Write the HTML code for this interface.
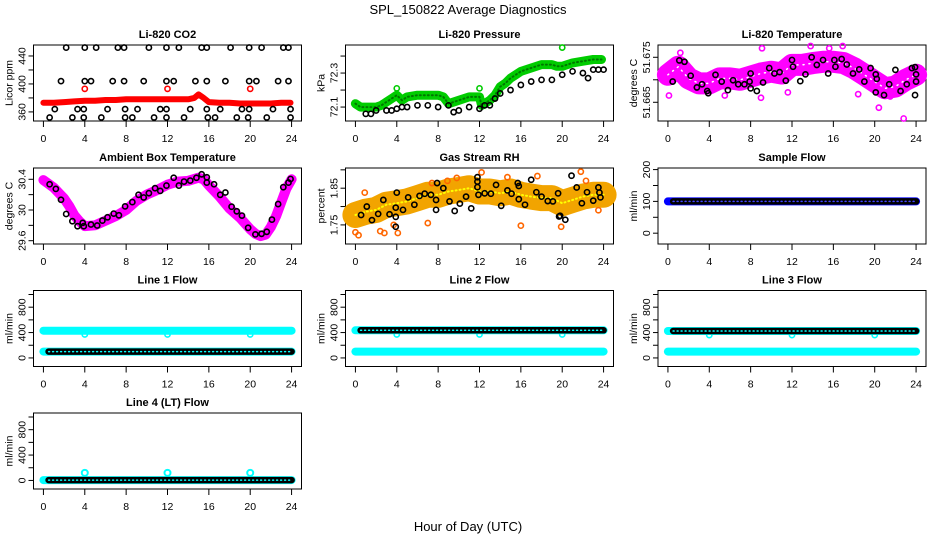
<!DOCTYPE html>
<html><head><meta charset="utf-8"><title>SPL_150822 Average Diagnostics</title>
<style>
html,body{margin:0;padding:0;background:#fff;}
svg{display:block;font-family:"Liberation Sans",sans-serif;}
</style></head>
<body>
<svg id="chart" width="936" height="540" viewBox="0 0 936 540" xmlns="http://www.w3.org/2000/svg">
<rect x="0" y="0" width="936" height="540" fill="#fff"/>
<text x="468" y="14" text-anchor="middle" font-size="13">SPL_150822  Average Diagnostics</text>
<text x="468" y="531" text-anchor="middle" font-size="13">Hour of Day (UTC)</text>
</svg>
<script>
// ---------- data ----------
var xTicks = [0,4,8,12,16,20,24];
var hours = [0,1,2,3,4,5,6,7,8,9,10,11,12,13,14,15,16,17,18,19,20,21,22,23,24];
var flowBlackHours = [0.5,1,2,3,4,5,6,7,8,9,10,11,12,13,14,15,16,17,18,19,20,21,22,23,24];

// CO2
var co2RedHours = [0,1,2,3,4,5,6,7,8,9,10,11,12,13,14,14.6,15,15.4,16,17,18,19,20,21,22,23,23.9];
var co2Red = [373,373,374,375,376,376,377,377,378,378,378,378,378,378,378,380,385,381,374,373,373,372,372,372,372,373,373];
var co2RedOutHours = [4,12,20];
var co2RedOut = [393,393,393];
var co2BlackHours = [2.2,4.0,5.1,7.2,7.8,10.2,11.9,13.1,15.3,15.8,18.1,19.9,21.1,23.2,23.7,
 1.7,4.0,4.6,6.7,7.8,9.7,11.9,12.6,14.7,15.8,17.6,19.9,20.6,22.7,23.7,
 1.1,3.3,3.9,6.2,7.9,9.1,11.3,11.9,14.2,15.8,17.1,19.2,19.9,22.2,23.9,
 0.6,2.8,3.9,5.6,7.9,8.6,10.7,11.9,13.6,15.9,16.6,18.7,19.8,21.6,23.9];
var co2Black = [452,452,452,452,452,452,452,452,452,452,452,452,452,452,452,
 404,404,404,404,404,404,404,404,404,404,404,404,404,404,404,
 364,364,364,364,364,364,364,364,364,364,364,364,364,364,364,
 352,352,352,352,352,352,352,352,352,352,352,352,352,352,352];

// Pressure
var presGreenHours = [0,0.5,1,1.5,2,2.5,3,3.5,4,4.5,5,6,7,8,8.5,9,10,11,12,12.2,13,13.5,14,14.5,15,15.5,16,17,18,19,19.5,20,21,22,23,23.8];
var presGreen = [72.12,72.10,72.10,72.10,72.10,72.11,72.13,72.15,72.17,72.14,72.16,72.17,72.17,72.17,72.16,72.12,72.14,72.16,72.16,72.11,72.14,72.17,72.22,72.24,72.27,72.29,72.31,72.33,72.35,72.35,72.34,72.34,72.36,72.37,72.38,72.38];
var presGreenOutHours = [4,12,20];
var presGreenOut = [72.21,72.21,72.45];
var presBlackHours = [1,1.5,2,3,3.5,4,4.5,5,6,7,8,9,9.5,10,11,12,12.5,13,13.5,14,15,16,17,18,19,20,21,22,22.5,23,23.5,24];
var presBlack = [72.06,72.06,72.08,72.08,72.08,72.09,72.10,72.10,72.11,72.11,72.10,72.11,72.07,72.08,72.10,72.09,72.11,72.11,72.15,72.18,72.20,72.23,72.25,72.26,72.26,72.29,72.31,72.30,72.27,72.32,72.32,72.32];

// Li-820 temperature
var tempMag = [51.6711,51.6729,51.6703,51.6692,51.6692,51.6703,51.6703,51.6700,51.6707,51.6714,51.6718,51.6714,51.6733,51.6733,51.6737,51.6740,51.6740,51.6737,51.6726,51.6711,51.6696,51.6681,51.6685,51.6700,51.6711];
var tempMagOutHours = [0.1,1.2,9.1,9.0,13.8,15.6,16.9,20.4,22.8,5.5,11.6,18.4,21.5];
var tempMagOut = [51.6665,51.6760,51.6770,51.6660,51.6775,51.6770,51.6775,51.6638,51.6614,51.6665,51.6672,51.6668,51.6663];
var tempBlackHours = [0.46,1.1,1.6,2.2,2.8,3.3,3.8,3.9,4.6,5.2,5.8,6.3,6.8,7.4,7.9,8.0,8.0,8.6,9.2,9.8,10.3,10.8,11.4,12.0,12.1,12.8,13.3,13.9,14.4,15.0,15.5,16.1,16.2,16.8,17.3,17.9,18.5,19.0,19.6,20.1,20.2,20.1,20.9,21.4,22.0,22.5,23.1,23.6,23.9,24.0,24.0,23.9];
var tempBlack = [51.6696,51.6743,51.6740,51.6709,51.6683,51.6690,51.6675,51.6670,51.6711,51.6696,51.6677,51.6699,51.6690,51.6690,51.6696,51.6714,51.6681,51.6675,51.6694,51.6726,51.6714,51.6717,51.6698,51.6744,51.6729,51.6697,51.6712,51.6750,51.6733,51.6744,51.6714,51.6744,51.6729,51.6746,51.6734,51.6714,51.6723,51.6696,51.6726,51.6712,51.6702,51.6672,51.6666,51.6690,51.6722,51.6675,51.6690,51.6726,51.6728,51.6712,51.6696,51.6666];

// Ambient box temperature
var ambHours = [0,0.5,1,1.5,2,2.5,3,3.5,4,5,6,7,8,9,10,11,12,13,14,15,15.5,16,17,18,19,20,20.5,21,21.5,22,22.5,23,23.5,24];
var ambMag = [30.39,30.34,30.29,30.22,30.15,30.05,29.93,29.85,29.79,29.80,29.86,29.92,30.00,30.12,30.20,30.26,30.33,30.37,30.38,30.42,30.40,30.32,30.18,30.02,29.90,29.75,29.69,29.66,29.68,29.78,29.92,30.10,30.28,30.40];
var ambBlackHours = [0.6,1.2,1.7,2.2,2.8,3.3,3.8,3.9,4.6,5.2,5.7,6.2,6.8,7.3,7.9,8.6,9.2,9.7,10.2,10.8,11.3,11.9,12.6,13.1,13.6,14.2,14.8,15.3,15.8,15.8,16.5,17.1,17.6,18.2,18.7,19.2,19.8,20.5,21.1,21.6,22.1,22.7,23.2,23.7,23.9];
var ambBlack = [30.335,30.275,30.133,29.948,29.854,29.789,29.832,29.789,29.811,29.798,29.862,29.905,29.953,29.931,30.047,30.103,30.198,30.163,30.219,30.284,30.249,30.318,30.420,30.318,30.370,30.383,30.420,30.465,30.426,30.357,30.335,30.198,30.228,30.043,29.983,29.927,29.768,29.682,29.690,29.716,29.875,30.077,30.297,30.357,30.404];

// Gas stream RH
var rhMean = [1.777,1.786,1.791,1.805,1.809,1.814,1.823,1.832,1.832,1.841,1.845,1.850,1.841,1.841,1.836,1.841,1.832,1.827,1.823,1.823,1.809,1.818,1.827,1.832,1.832];
var rhOutHours = [0.0,0.3,2.4,2.8,3.7,4.1,7.0,8.9,9.8,12.2,14.7,16.0,17.6,19.9,21.8,22.3,23.5,0.9,7.4];
var rhOut = [1.730,1.722,1.733,1.728,1.750,1.728,1.755,1.870,1.878,1.893,1.880,1.748,1.883,1.745,1.895,1.870,1.790,1.838,1.864];
var rhBlackHours = [0.55,1.1,1.6,2.2,2.7,3.3,3.9,3.9,3.9,4.0,4.6,5.1,5.7,6.2,6.7,7.3,7.8,7.8,7.9,8.5,9.1,9.6,10.1,10.7,11.2,11.8,11.8,11.8,11.9,12.5,13.1,13.6,14.1,14.7,15.1,15.7,15.8,15.8,16.4,17.0,17.5,18.0,18.6,19.1,19.6,19.7,19.8,20.3,20.9,21.4,21.9,22.4,23.0,23.5,23.6,23.7];
var rhBlack = [1.777,1.800,1.763,1.780,1.818,1.779,1.797,1.772,1.745,1.838,1.791,1.825,1.805,1.829,1.835,1.832,1.818,1.791,1.864,1.850,1.814,1.788,1.808,1.827,1.795,1.880,1.868,1.853,1.832,1.836,1.835,1.859,1.802,1.844,1.835,1.864,1.856,1.820,1.805,1.873,1.839,1.827,1.815,1.814,1.836,1.773,1.775,1.764,1.884,1.852,1.809,1.839,1.816,1.852,1.838,1.825];

// Flows (hourly)
var sampleBlue = [100,100,100,100,100,100,100,100,100,100,100,100,100,100,100,100,100,100,100,100,100,100,100,100,100];
var line1Cyan  = [430,430,430,430,430,430,430,430,430,430,430,430,430,430,430,430,430,430,430,430,430,430,430,430,430];
var line1Black = [100,100,100,100,100,100,100,100,100,100,100,100,100,100,100,100,100,100,100,100,100,100,100,100,100];
var line2Cyan  = [100,100,100,100,100,100,100,100,100,100,100,100,100,100,100,100,100,100,100,100,100,100,100,100,100];
var line2Black = [435,435,435,435,435,435,435,435,435,435,435,435,435,435,435,435,435,435,435,435,435,435,435,435,435];
var line3Cyan  = [100,100,100,100,100,100,100,100,100,100,100,100,100,100,100,100,100,100,100,100,100,100,100,100,100];
var line3Black = [425,425,425,425,425,425,425,425,425,425,425,425,425,425,425,425,425,425,425,425,425,425,425,425,425];
var line4Black = [5,5,5,5,5,5,5,5,5,5,5,5,5,5,5,5,5,5,5,5,5,5,5,5,5];
var flowOutHours = [4,12,20];
var line1Out = [370,370,370];
var line2Out = [370,370,370];
var line3Out = [360,360,360];
var line4Out = [120,120,120];

// ---------- drawing ----------
var NS = "http://www.w3.org/2000/svg";
var svg = document.getElementById('chart');
function mk(tag, attrs, parent) {
  var e = document.createElementNS(NS, tag);
  for (var k in attrs) e.setAttribute(k, attrs[k]);
  (parent || svg).appendChild(e);
  return e;
}
var colLeft = [33.5, 345.5, 658];
var rowTop = [45, 168, 290.5, 413];
var W = 268, H = 76;

function makePanel(col, row, title, ylab, ymin, ymax, ticks, labels, name) {
  var L = colLeft[col], T = rowTop[row];
  var g = mk('g', {});
  
  
  var p = {
    g: g, L: L, T: T,
    x: function (h) { return L + (h + 0.96) / 25.92 * W; },
    y: function (v) { return T + H - (v - ymin) / (ymax - ymin) * H; }
  };
  var t = mk('text', {x: L + W / 2, y: T - 7, 'text-anchor': 'middle', 'font-size': 11, 'font-weight': 'bold'}, g);
  t.textContent = title;
  
  
  var box = mk('rect', {x: L, y: T, width: W, height: H, fill: 'none', stroke: '#000', 'stroke-width': 1}, g);
  
  
  var xa = mk('g', {}, g);
  
  
  xTicks.forEach(function (h) {
    var xx = p.x(h);
    mk('line', {x1: xx, x2: xx, y1: T + H, y2: T + H + 6, stroke: '#000'}, xa);
    var lt = mk('text', {x: xx, y: T + H + 21, 'text-anchor': 'middle', 'font-size': 10.5}, xa);
    lt.textContent = h;
  });
  var ya = mk('g', {}, g);
  
  
  ticks.forEach(function (v) {
    var yy = p.y(v);
    mk('line', {x1: L - 5, x2: L, y1: yy, y2: yy, stroke: '#000'}, ya);
  });
  labels.forEach(function (v) {
    var yy = p.y(v);
    var lt = mk('text', {x: 0, y: 0, 'text-anchor': 'middle', 'font-size': 10.5, transform: 'translate(' + (L - 8) + ',' + yy + ') rotate(-90)'}, ya);
    lt.textContent = String(v);
  });
  var yt = mk('text', {x: 0, y: 0, 'text-anchor': 'middle', 'font-size': 10.5, transform: 'translate(' + (L - 21) + ',' + (T + H / 2) + ') rotate(-90)'}, g);
  yt.textContent = ylab;
  
  
  return p;
}
function series(p, name) {
  var s = mk('g', {}, p.g);
  
  
  return s;
}
function points(p, hs, vs, color, name, r, sw) {
  var s = series(p, name);
  for (var i = 0; i < vs.length; i++) {
    mk('circle', {cx: p.x(hs[i]), cy: p.y(vs[i]), r: r || 2.6, fill: 'none', stroke: color, 'stroke-width': sw || 1.6}, s);
  }
  return s;
}
function band(p, hs, vs, color, width, name, dash) {
  var s = series(p, name);
  var d = '';
  for (var i = 0; i < vs.length; i++) d += (i ? 'L' : 'M') + p.x(hs[i]).toFixed(1) + ',' + p.y(vs[i]).toFixed(1);
  var a = {d: d, fill: 'none', stroke: color, 'stroke-width': width, 'stroke-linecap': 'round', 'stroke-linejoin': 'round'};
  if (dash) a['stroke-dasharray'] = dash;
  mk('path', a, s);
  return s;
}

// Panel: CO2
var p1 = makePanel(0, 0, 'Li-820 CO2', 'Licor ppm', 347, 455.7, [360,380,400,420,440], [360,400,440], 'co2');
band(p1, co2RedHours, co2Red, '#f00', 6, 'co2-red-series');
points(p1, co2RedOutHours, co2RedOut, '#f00', 'co2-red-outliers');
points(p1, co2BlackHours, co2Black, '#000', 'co2-black-series');

// Panel: Pressure
var p2 = makePanel(1, 0, 'Li-820 Pressure', 'kPa', 72.018, 72.465, [72.1,72.2,72.3,72.4], [72.1,72.3], 'pressure');
band(p2, presGreenHours, presGreen, '#0c0', 9, 'pressure-green-band');
band(p2, presGreenHours, presGreen, '#070', 2, 'pressure-green-texture', '1,3');
points(p2, presGreenOutHours, presGreenOut, '#0c0', 'pressure-green-outliers');
points(p2, presBlackHours, presBlack, '#000', 'pressure-black-series');

// Panel: Li-820 temperature
var p3 = makePanel(2, 0, 'Li-820 Temperature', 'degrees C', 51.66084, 51.67773, [51.665,51.67,51.675], [51.665,51.675], 'li820-temp');
band(p3, hours, tempMag, '#f0f', 22, 'li820-temp-magenta-band');
band(p3, hours, tempMag, '#fff', 1.5, 'li820-temp-band-texture', '1,5');
points(p3, tempMagOutHours, tempMagOut, '#f0f', 'li820-temp-magenta-outliers');
points(p3, tempBlackHours, tempBlack, '#000', 'li820-temp-black-series');

// Panel: Ambient box temperature
var p4 = makePanel(0, 1, 'Ambient Box Temperature', 'degrees C', 29.557, 30.547, [29.6,29.8,30.0,30.2,30.4], [29.6,30.0,30.4], 'ambient-temp');
band(p4, ambHours, ambMag, '#f0f', 10, 'ambient-magenta-band');
points(p4, ambBlackHours, ambBlack, '#000', 'ambient-black-series');

// Panel: RH
var p5 = makePanel(1, 1, 'Gas Stream RH', 'percent', 1.698, 1.905, [1.75,1.8,1.85,1.9], [1.75,1.85], 'rh');
band(p5, hours, rhMean, '#f2a400', 26, 'rh-orange-band');
band(p5, hours, rhMean, '#ff0', 2, 'rh-yellow-texture', '1,3');
points(p5, rhOutHours, rhOut, '#f60', 'rh-orange-outliers');
points(p5, rhBlackHours, rhBlack, '#000', 'rh-black-series');

// Panel: Sample flow
var p6 = makePanel(2, 1, 'Sample Flow', 'ml/min', -34, 205, [0,50,100,150,200], [0,100,200], 'sample-flow');
band(p6, hours, sampleBlue, '#00f', 8, 'sample-flow-blue-series');
band(p6, flowBlackHours, sampleBlue, '#000', 6.5, 'sample-flow-black-series');
band(p6, flowBlackHours, sampleBlue, '#44f', 1.5, 'sample-flow-texture', '1,3');

var flowTicks = [0,200,400,600,800,1000], flowLabels = [0,400,800];
// Line 1
var p7 = makePanel(0, 2, 'Line 1 Flow', 'ml/min', -135, 1063, flowTicks, flowLabels, 'line1-flow');
band(p7, hours, line1Cyan, '#0ff', 8, 'line1-cyan-series');
points(p7, flowOutHours, line1Out, '#0ff', 'line1-cyan-outliers');
band(p7, hours, line1Black, '#0ff', 8, 'line1-cyan-low');
band(p7, flowBlackHours, line1Black, '#000', 6.5, 'line1-black-series');
band(p7, flowBlackHours, line1Black, '#0ff', 1.5, 'line1-texture', '1,3');
// Line 2
var p8 = makePanel(1, 2, 'Line 2 Flow', 'ml/min', -135, 1063, flowTicks, flowLabels, 'line2-flow');
band(p8, hours, line2Cyan, '#0ff', 8, 'line2-cyan-series');
band(p8, hours, line2Black, '#0ff', 8, 'line2-cyan-high');
points(p8, flowOutHours, line2Out, '#0ff', 'line2-cyan-outliers');
band(p8, flowBlackHours, line2Black, '#000', 6.5, 'line2-black-series');
band(p8, flowBlackHours, line2Black, '#0ff', 1.5, 'line2-texture', '1,3');
// Line 3
var p9 = makePanel(2, 2, 'Line 3 Flow', 'ml/min', -135, 1063, flowTicks, flowLabels, 'line3-flow');
band(p9, hours, line3Cyan, '#0ff', 8, 'line3-cyan-series');
band(p9, hours, line3Black, '#0ff', 8, 'line3-cyan-high');
points(p9, flowOutHours, line3Out, '#0ff', 'line3-cyan-outliers');
band(p9, flowBlackHours, line3Black, '#000', 6.5, 'line3-black-series');
band(p9, flowBlackHours, line3Black, '#0ff', 1.5, 'line3-texture', '1,3');
// Line 4
var p10 = makePanel(0, 3, 'Line 4 (LT) Flow', 'ml/min', -135, 1063, flowTicks, flowLabels, 'line4-flow');
band(p10, hours, line4Black, '#0ff', 8, 'line4-cyan-series');
points(p10, flowOutHours, line4Out, '#0ff', 'line4-cyan-outliers', 3, 2);
band(p10, flowBlackHours, line4Black, '#000', 6.5, 'line4-black-series');
band(p10, flowBlackHours, line4Black, '#0ff', 1.5, 'line4-texture', '1,3');
</script>
</body></html>
